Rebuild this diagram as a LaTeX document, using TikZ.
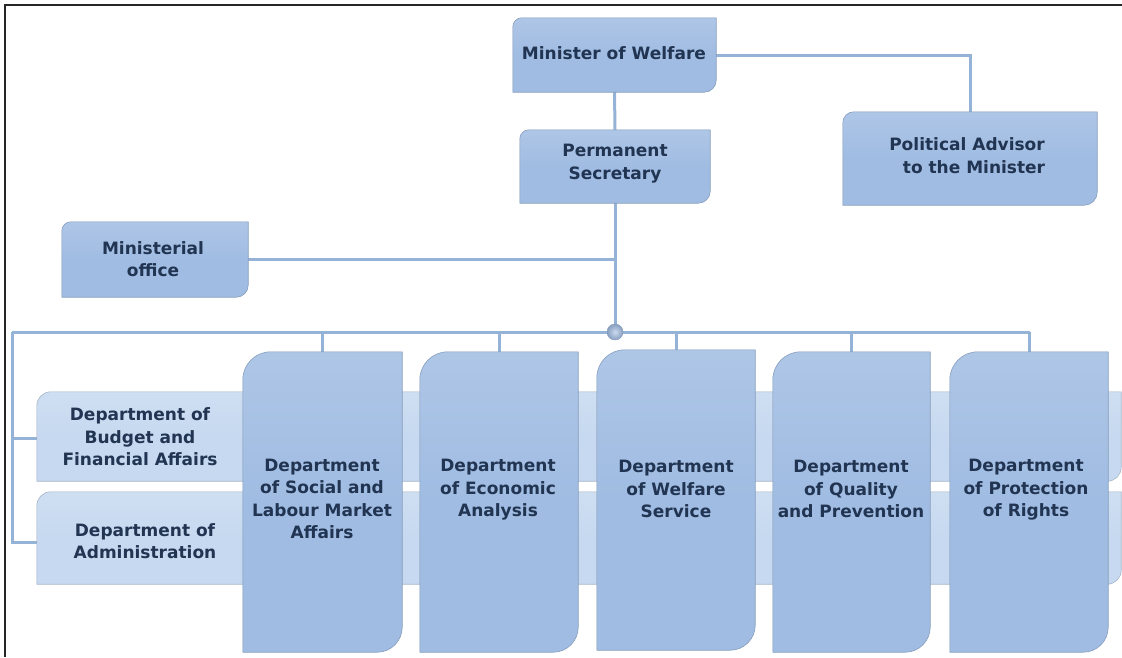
\documentclass[tikz,border=0pt]{standalone}
\usepackage{fontspec}
\setmainfont{DejaVu Sans}
\usetikzlibrary{calc}
\definecolor{boxblue}{RGB}{160,188,226}
\definecolor{barblue}{RGB}{198,217,240}
\definecolor{linkblue}{RGB}{149,179,215}
\definecolor{txt}{RGB}{33,52,82}
\pgfdeclarelayer{links}
\pgfdeclarelayer{shapes}
\pgfsetlayers{links,shapes,main}
% name, radius top-left, radius bottom-right, path options
\newcommand\diagshape[4]{%
  \path[#4] let \p1=(#1.north west), \p2=(#1.south east) in
    (\x1,\y2) -- (\x1,\y1-#2) arc[start angle=180,end angle=90,radius=#2]
    -- (\x2,\y1) -- (\x2,\y2+#3) arc[start angle=0,end angle=-90,radius=#3] -- cycle;}
% name, rTL, rBR, colour
\newcommand\orgshape[4]{%
  \diagshape{#1}{#2}{#3}{fill=black,opacity=.15,xshift=2pt,yshift=-3pt}%
  \diagshape{#1}{#2}{#3}{fill=black,opacity=.08,xshift=3.5pt,yshift=-5pt}%
  \diagshape{#1}{#2}{#3}{top color=#4!85!white,bottom color=#4,middle color=#4,draw=#4!85!black,line width=.6pt}}
\tikzset{
  frame/.style={rectangle,inner sep=0pt},
  lbl/.style={font=\fontsize{17}{22.5}\selectfont\bfseries,text=txt,align=center,inner sep=0pt},
  link/.style={draw=linkblue,line width=3pt},
}
\begin{document}
\begin{tikzpicture}[x=1pt,y=1pt]
\useasboundingbox (0,0) rectangle (1122,-657);
\draw[line width=2pt,black!85] (5,-657) |- (1122,-5);

% box frames
\node[frame,minimum width=203pt,minimum height=74pt] (minister) at (614.5,-55) {};
\node[frame,minimum width=190pt,minimum height=73pt] (perm) at (615,-166.5) {};
\node[frame,minimum width=254pt,minimum height=93pt] (advisor) at (970,-158.5) {};
\node[frame,minimum width=186pt,minimum height=75pt] (office) at (155,-259.5) {};
\node[frame,minimum width=1084pt,minimum height=89pt] (budget) at (579,-436.5) {};
\node[frame,minimum width=1084pt,minimum height=92pt] (admin) at (579,-538) {};
\node[frame,minimum width=159pt,minimum height=300pt] (social) at (322.5,-502) {};
\node[frame,minimum width=158pt,minimum height=300pt] (econ) at (499,-502) {};
\node[frame,minimum width=158pt,minimum height=300pt] (welfare) at (676,-500) {};
\node[frame,minimum width=157pt,minimum height=300pt] (quality) at (851.5,-502) {};
\node[frame,minimum width=158pt,minimum height=300pt] (rights) at (1029,-502) {};

\coordinate (busL) at (12,-332);
\coordinate (busR) at (1030,-332);

% connectors
\begin{pgfonlayer}{links}
\draw[link] (minister.south) -- (perm.north);
\draw[link] (minister.east) -| (advisor.north);
\draw[link] (perm.south) -- (perm.south |- busL);
\draw[link] (office.east) -- (office.east -| perm.south);
\draw[link] (busL) -- (busR);
\draw[link] (busL) |- ([yshift=-4pt]admin.west);
\draw[link] ([yshift=-1.5pt]budget.west) -- ([yshift=-1.5pt]budget.west -| busL);
\foreach \n in {social,econ,welfare,quality,rights}
  \draw[link] (\n.north) -- (\n.north |- busL);
\end{pgfonlayer}

% shapes
\begin{pgfonlayer}{shapes}
\orgshape{minister}{9pt}{12pt}{boxblue}
\orgshape{perm}{9pt}{12pt}{boxblue}
\orgshape{advisor}{11pt}{13pt}{boxblue}
\orgshape{office}{9pt}{12pt}{boxblue}
\orgshape{budget}{14pt}{14pt}{barblue}
\orgshape{admin}{14pt}{14pt}{barblue}
\orgshape{social}{28pt}{25pt}{boxblue}
\orgshape{econ}{28pt}{25pt}{boxblue}
\orgshape{welfare}{28pt}{25pt}{boxblue}
\orgshape{quality}{28pt}{25pt}{boxblue}
\orgshape{rights}{28pt}{25pt}{boxblue}
\end{pgfonlayer}

\node[circle,inner sep=0pt,minimum size=16pt,inner color=boxblue!55!white,outer color=boxblue!85!black,draw=linkblue!85!black,line width=.4pt] (dot) at (perm.south |- busL) {};

% labels
\node[lbl] (ministertxt) at (614,-53) {Minister of Welfare};
\node[lbl] (permtxt) at (615,-163.5) {Permanent\\Secretary};
\node[lbl] (advisortxt) at (967,-155.5) {Political Advisor\\\hspace*{14pt}to the Minister};
\node[lbl] (officetxt) at (153,-259) {Ministerial\\office};
\node[lbl] (budgettxt) at (140,-437) {Department of\\Budget and\\Financial Affairs};
\node[lbl] (admintxt) at (145,-541) {Department of\\Administration};
\node[lbl] (socialtxt) at (322,-499) {Department\\of Social and\\Labour Market\\Affairs};
\node[lbl] (econtxt) at (498,-490) {Department\\of Economic\\Analysis};
\node[lbl] (welfaretxt) at (676,-489) {Department\\of Welfare\\Service};
\node[lbl] (qualitytxt) at (851,-489) {Department\\of Quality\\and Prevention};
\node[lbl] (rightstxt) at (1026,-490) {Department\\of Protection\\of Rights};
\end{tikzpicture}
\end{document}
